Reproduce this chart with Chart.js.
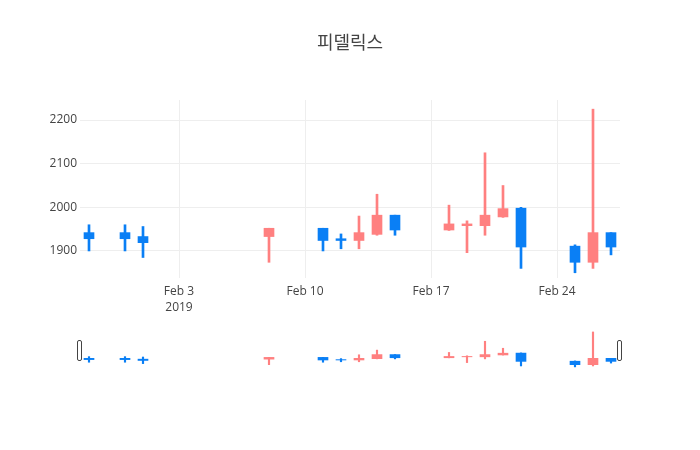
<!DOCTYPE html>
<html>
<head>
<meta charset="utf-8">
<script src="https://cdn.jsdelivr.net/npm/chart.js@4.4.1/dist/chart.umd.min.js"></script>
<style>
    body { margin: 0; background: #fff; }
    #wrap { position: relative; width: 700px; height: 450px; }
    #mainChart { position: absolute; left: 0; top: 0; }
    #sliderChart { position: absolute; left: 0; top: 325px; }
</style>
</head>
<body>
<div id="wrap">
    <canvas id="mainChart" width="700" height="450"></canvas>
    <canvas id="sliderChart" width="700" height="50"></canvas>
</div>
<script>
// ========= DATA ===================================================================== //
const dates  = ['2019-01-29', '2019-01-31', '2019-02-01', '2019-02-08', '2019-02-11', '2019-02-12',
                '2019-02-13', '2019-02-14', '2019-02-15', '2019-02-18', '2019-02-19', '2019-02-20',
                '2019-02-21', '2019-02-22', '2019-02-25', '2019-02-26', '2019-02-27'];
const opens  = [1942, 1942, 1933, 1933, 1952, 1928, 1924, 1938, 1982, 1948, 1958, 1958, 1978, 1998, 1911, 1874, 1942];
const highs  = [1960, 1960, 1956, 1952, 1952, 1939, 1980, 2030, 1982, 2005, 1969, 2125, 2050, 2000, 1914, 2225, 1942];
const lows   = [1900, 1900, 1885, 1874, 1900, 1905, 1905, 1936, 1936, 1947, 1896, 1936, 1977, 1860, 1850, 1860, 1891];
const closes = [1928, 1928, 1919, 1952, 1924, 1924, 1942, 1982, 1948, 1962, 1962, 1982, 1997, 1909, 1874, 1942, 1909];

const xTickDates  = ['2019-02-03', '2019-02-10', '2019-02-17', '2019-02-24'];
const xTickLabels = [['Feb 3', '2019'], 'Feb 10', 'Feb 17', 'Feb 24'];
const yTicks = [1900, 2000, 2100, 2200];
const xRange = ['2019-01-28T12:00', '2019-02-27T12:00'];
const yRange = [1838, 2246];

const upColor = '#ff8080';
const downColor = '#0a7ff5';

// day number counted from Jan 0 2019
function dayNum(s) {
    return (new Date(s + (s.length === 10 ? 'T00:00' : '') + 'Z') - Date.UTC(2019, 0, 0)) / 864e5;
}

const xs = dates.map(dayNum);
const colors = opens.map((o, i) => closes[i] >= o ? upColor : downColor);
const bodies = xs.map((x, i) => ({ x: x, y: [opens[i], closes[i]] }));
const wicks = xs.map((x, i) => ({ x: x, y: [lows[i], highs[i]] }));

const font = "'Open Sans', 'Noto Sans CJK KR', sans-serif";
Chart.defaults.font.family = font;
Chart.defaults.color = '#444';

function candleSets(bodyW, wickW) {
    return [{
        data: bodies,
        backgroundColor: colors,
        barThickness: bodyW,
        grouped: false,
        order: 0
    }, {
        data: wicks,
        backgroundColor: colors,
        barThickness: wickW,
        grouped: false,
        order: 1
    }];
}

// ========= MAIN CHART =============================================================== //
new Chart(document.getElementById('mainChart').getContext('2d'), {
    type: 'bar',
    data: { datasets: candleSets(10, 2) },
    options: {
        responsive: false,
        animation: false,
        layout: { padding: 0 },
        plugins: {
            legend: { display: false },
            tooltip: { enabled: false },
            title: {
                display: true,
                text: '피델릭스',
                color: '#444',
                font: { size: 18, weight: 'normal', lineHeight: 1.2 },
                padding: { top: 33.2, bottom: 45.2 }
            }
        },
        scales: {
            x: {
                type: 'linear',
                offset: false,
                min: dayNum(xRange[0]),
                max: dayNum(xRange[1]),
                afterBuildTicks: s => { s.ticks = xTickDates.map(d => ({ value: dayNum(d) })); },
                afterFit: s => { s.height = 172; },
                grid: { color: '#eee', drawTicks: false, offset: false },
                border: { display: false },
                ticks: {
                    padding: 6,
                    font: { size: 12, lineHeight: 1.33 },
                    maxRotation: 0,
                    callback: (v, i) => xTickLabels[i]
                }
            },
            y: {
                min: yRange[0],
                max: yRange[1],
                afterBuildTicks: s => { s.ticks = yTicks.map(v => ({ value: v })); },
                afterFit: s => { s.width = 80; },
                grid: { color: '#eee', drawTicks: false },
                border: { display: false },
                ticks: { padding: 3, font: { size: 12 }, callback: v => String(v) }
            },
            // empty right margin so the title centres on the page
            yRight: {
                position: 'right',
                afterFit: s => { s.width = 80; },
                grid: { display: false },
                border: { display: false },
                ticks: { display: false }
            }
        }
    }
});

// ========= RANGE SLIDER ============================================================= //
const handles = {
    id: 'handles',
    afterDraw(chart) {
        const c = chart.ctx, a = chart.chartArea;
        c.save();
        c.fillStyle = '#fff';
        c.strokeStyle = '#444';
        c.lineWidth = 1;
        [a.left, a.right].forEach(x => {
            c.beginPath();
            c.roundRect(Math.round(x) - 2.5, 15.5, 4, 20, 1.5);
            c.fill();
            c.stroke();
        });
        c.restore();
    }
};

new Chart(document.getElementById('sliderChart').getContext('2d'), {
    type: 'bar',
    data: { datasets: candleSets(10, 1.5) },
    options: {
        responsive: false,
        animation: false,
        layout: { padding: { left: 80, right: 80, top: 5, bottom: 7 } },
        plugins: { legend: { display: false }, tooltip: { enabled: false } },
        scales: {
            x: { type: 'linear', display: false, offset: false, min: dayNum(xRange[0]), max: dayNum(xRange[1]) },
            y: { display: false, min: yRange[0], max: yRange[1] }
        }
    },
    plugins: [handles]
});
</script>
</body>
</html>
